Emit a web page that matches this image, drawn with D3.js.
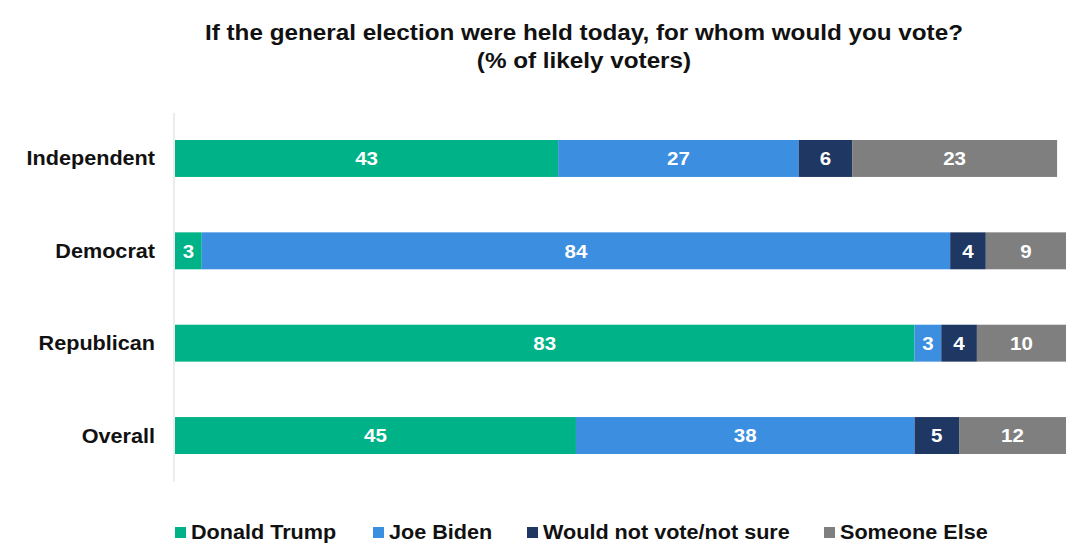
<!DOCTYPE html>
<html>
<head>
<meta charset="utf-8">
<script src="https://cdn.jsdelivr.net/npm/d3@7"></script>
<style>
  html, body { margin: 0; padding: 0; background: #fff; }
  svg text { font-family: "Liberation Sans", Arial, sans-serif; font-weight: bold; }
</style>
</head>
<body>
<svg id="chart" width="1078" height="550"></svg>
<script>
// Party groups, top to bottom
const categories = ["Independent", "Democrat", "Republican", "Overall"];
// Response options (stack order, left to right)
const seriesNames = ["Donald Trump", "Joe Biden", "Would not vote/not sure", "Someone Else"];
// Percent of likely voters per group
const trump   = [43, 3, 83, 45];
const biden   = [27, 84, 3, 38];
const notSure = [6, 4, 4, 5];
const someone = [23, 9, 10, 12];
const colors  = ["#00b287", "#3b8ee0", "#1f3763", "#7f7f7f"];

const titleLines = [
  "If the general election were held today, for whom would you vote?",
  "(% of likely voters)"
];

const rows = categories.map((c, i) => ({
  category: c,
  "Donald Trump": trump[i],
  "Joe Biden": biden[i],
  "Would not vote/not sure": notSure[i],
  "Someone Else": someone[i]
}));

// Widen glyphs horizontally (the typeface runs a little broad)
function stretch(sel, k) {
  sel.each(function () {
    const len = this.getComputedTextLength();
    d3.select(this).attr("textLength", len * k).attr("lengthAdjust", "spacingAndGlyphs");
  });
}

const svg = d3.select("#chart");
const W = 1078;
const plotLeft = 175, plotRight = 1066;

const x = d3.scaleLinear().domain([0, 100]).range([plotLeft, plotRight]);
const y = d3.scaleBand().domain(categories).range([140, 454]).paddingInner(0.6).paddingOuter(0);

// Title
const title = svg.append("g").selectAll("text").data(titleLines).join("text")
  .attr("x", 584).attr("y", (d, i) => 40 + i * 28)
  .attr("text-anchor", "middle")
  .attr("font-size", 22)
  .attr("fill", "#111")
  .text(d => d);
const titleK = 758 / title.node().getComputedTextLength();
stretch(title, titleK);

// Category axis
const yAxis = svg.append("g")
  .attr("transform", `translate(${plotLeft - 1},0)`)
  .call(d3.axisLeft(y).tickSize(0).tickPadding(19));
yAxis.select(".domain").attr("stroke", "#d9d9d9").attr("d", `M0,113V482`);
yAxis.selectAll("text").attr("font-size", 20).attr("fill", "#111")
  .attr("font-family", "Liberation Sans, Arial, sans-serif").attr("dy", "0.35em");
stretch(yAxis.selectAll("text"), 1.08);

const stacked = d3.stack().keys(seriesNames)(rows);

const layers = svg.append("g").selectAll("g").data(stacked).join("g")
  .attr("fill", (d, i) => colors[i]);

layers.selectAll("rect").data(d => d).join("rect")
  .attr("x", d => x(d[0]))
  .attr("y", d => y(d.data.category))
  .attr("width", d => x(d[1]) - x(d[0]))
  .attr("height", y.bandwidth());

const vals = layers.selectAll("text").data(d => d).join("text")
  .attr("x", d => (x(d[0]) + x(d[1])) / 2)
  .attr("y", d => y(d.data.category) + y.bandwidth() / 2)
  .attr("dy", "0.36em")
  .attr("text-anchor", "middle")
  .attr("font-size", 19)
  .attr("fill", "#fff")
  .text(d => d[1] - d[0]);
stretch(vals, 1.08);

// Legend
const legendX = [175, 373, 527, 824];
const legend = svg.append("g").selectAll("g").data(seriesNames).join("g")
  .attr("transform", (d, i) => `translate(${legendX[i]},532)`);
legend.append("rect").attr("x", 0).attr("y", -5).attr("width", 11).attr("height", 11)
  .attr("fill", (d, i) => colors[i]);
const legendText = legend.append("text").attr("x", 16).attr("dy", "0.36em")
  .attr("font-size", 20).attr("fill", "#111").text(d => d);
stretch(legendText, 1.08);
</script>
</body>
</html>
